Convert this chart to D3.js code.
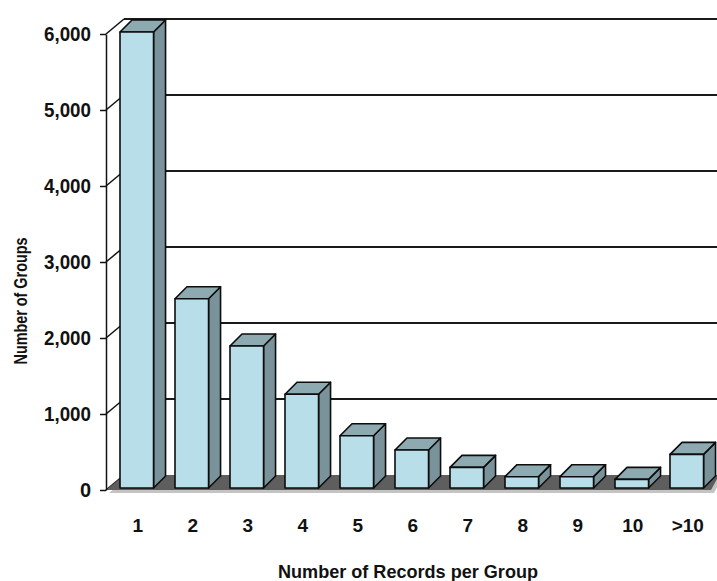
<!DOCTYPE html>
<html>
<head>
<meta charset="utf-8">
<script src="https://cdn.jsdelivr.net/npm/d3@7/dist/d3.min.js"></script>
<style>
  html, body { margin: 0; padding: 0; background: #fff; }
  svg { display: block; }
  text { font-family: "Liberation Sans", Arial, sans-serif; font-weight: bold; fill: #111; }
</style>
</head>
<body>
<svg id="chart" width="717" height="581"></svg>
<script>
// Groups counted by how many records each group holds
const categories = ["1", "2", "3", "4", "5", "6", "7", "8", "9", "10", ">10"];
const groupCounts = [6000, 2490, 1868, 1233, 688, 500, 272, 149, 149, 114, 443];
const yTicks = [0, 1000, 2000, 3000, 4000, 5000, 6000];
const xTitle = "Number of Records per Group";
const yTitle = "Number of Groups";

const svg = d3.select("#chart");

// Pseudo-3D geometry: wall depth and column depth (screen offsets)
const wallDx = 18, wallDy = -15;
const barDx = 12, barDy = -12;
const barShiftX = 0, barShiftY = -2;   // columns sit slightly behind the front edge

const axisX = 106;
const floorRightFront = 711;
const wallRight = 740;

const y = d3.scaleLinear().domain([0, 6000]).range([490, 34]);
const x = d3.scaleBand().domain(categories).range([120, 703.55])
  .paddingInner(0.39).paddingOuter(0);

// Back wall gridlines
const wall = svg.append("g");
wall.selectAll("line.grid")
  .data(yTicks.filter(d => d > 0))
  .join("line")
  .attr("class", "grid")
  .attr("x1", axisX + wallDx).attr("x2", wallRight)
  .attr("y1", d => y(d) + wallDy).attr("y2", d => y(d) + wallDy)
  .attr("stroke", "#1a1a1a").attr("stroke-width", 2);

// Side wall: diagonals from the front axis to the back wall
wall.selectAll("line.side")
  .data(yTicks)
  .join("line")
  .attr("class", "side")
  .attr("x1", axisX).attr("y1", d => y(d))
  .attr("x2", axisX + wallDx).attr("y2", d => y(d) + wallDy)
  .attr("stroke", "#111").attr("stroke-width", 1.5);

// Floor with its soft shadow
const floorPts = [
  [axisX, y(0)], [axisX + wallDx, y(0) + wallDy],
  [wallRight, y(0) + wallDy], [floorRightFront + 6, y(0) + wallDy + 4], [floorRightFront, y(0)]
];
svg.append("polygon")
  .attr("points", floorPts.map(p => [p[0] + 3, p[1] + 3]).join(" "))
  .attr("fill", "#c4c4c4");
svg.append("polygon")
  .attr("points", floorPts.join(" "))
  .attr("fill", "#5e5e5e");

// Front axis with ticks and labels
const axis = d3.axisLeft(y)
  .tickValues(yTicks)
  .tickFormat(d3.format(","))
  .tickSize(6)
  .tickSizeOuter(0)
  .tickPadding(9);
const ag = svg.append("g")
  .attr("transform", `translate(${axisX},0)`)
  .call(axis);
ag.attr("font-size", null).attr("font-family", null);
ag.select(".domain").attr("stroke", "#111").attr("stroke-width", 1.5);
ag.selectAll(".tick line").attr("stroke", "#111").attr("stroke-width", 1.5);
ag.selectAll(".tick text")
  .style("font-size", "20px")
  .attr("fill", "#111")
  .each(function () {
    const t = d3.select(this);
    if (t.text().length > 1) t.attr("textLength", 47).attr("lengthAdjust", "spacingAndGlyphs");
  });

// Columns: front face, side face, top face
const bars = svg.append("g").selectAll("g.bar")
  .data(categories.map((c, i) => ({ c, v: groupCounts[i] })))
  .join("g")
  .attr("class", "bar");

bars.each(function (d) {
  const g = d3.select(this);
  const x0 = x(d.c) + barShiftX, x1 = x0 + x.bandwidth();
  const yb = y(0) + barShiftY, yt = y(d.v) + barShiftY;
  const poly = (pts, fill) => g.append("polygon")
    .attr("points", pts.join(" ")).attr("fill", fill)
    .attr("stroke", "#0d0d0d").attr("stroke-width", 1.6).attr("stroke-linejoin", "round");
  poly([[x1, yb], [x1 + barDx, yb + barDy], [x1 + barDx, yt + barDy], [x1, yt]], "#7a939a");
  poly([[x0, yt], [x1, yt], [x1 + barDx, yt + barDy], [x0 + barDx, yt + barDy]], "#8eaab1");
  poly([[x0, yb], [x1, yb], [x1, yt], [x0, yt]], "#b8dee9");
});

// Category labels
svg.append("g").selectAll("text")
  .data(categories)
  .join("text")
  .attr("x", d => x(d) + x.bandwidth() / 2 + 1)
  .attr("y", 532)
  .attr("text-anchor", "middle")
  .style("font-size", "19px")
  .text(d => d);

// Axis titles
svg.append("text")
  .attr("x", 408).attr("y", 578)
  .attr("text-anchor", "middle")
  .style("font-size", "19px")
  .attr("textLength", 260).attr("lengthAdjust", "spacingAndGlyphs")
  .text(xTitle);

svg.append("text")
  .attr("transform", "translate(27,301) rotate(-90)")
  .attr("text-anchor", "middle")
  .style("font-size", "18px")
  .attr("textLength", 127).attr("lengthAdjust", "spacingAndGlyphs")
  .text(yTitle);
</script>
</body>
</html>
